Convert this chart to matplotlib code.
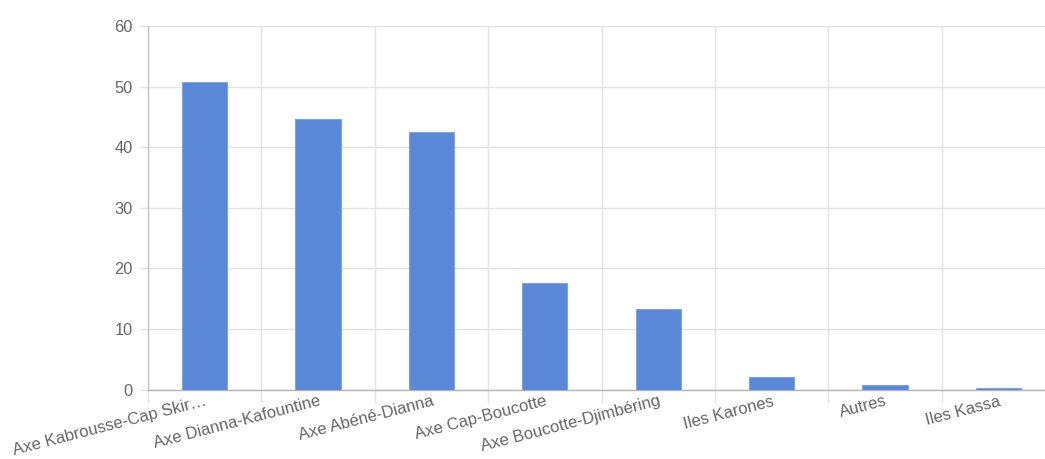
import matplotlib
matplotlib.use("Agg")
import matplotlib.pyplot as plt
import numpy as np

categories = ["Axe Kabrousse-Cap Skir…", "Axe Dianna-Kafountine", "Axe Abéné-Dianna",
              "Axe Cap-Boucotte", "Axe Boucotte-Djimbéring", "Iles Karones", "Autres", "Iles Kassa"]
values = [50.8, 44.6, 42.5, 17.5, 13.3, 2.1, 0.8, 0.2]
y_ticks = [0, 10, 20, 30, 40, 50, 60]

plt.rcParams['font.family'] = ['Liberation Sans', 'DejaVu Sans']

W, H = 1045, 459
fig = plt.figure(figsize=(W / 100, H / 100), dpi=100)
left_px, right_px, top_px, bot_px = 148, 1055, 26, 389.5
ax = fig.add_axes([left_px / W, (H - bot_px) / H, (right_px - left_px) / W, (bot_px - top_px) / H])

x = np.arange(len(categories))
ax.bar(x, values, width=0.4, color='#5b88d6', edgecolor='#7fa3e0', linewidth=0.8, zorder=3)

ax.set_xlim(-0.5, len(categories) - 0.5)
ax.set_ylim(0, 60)
ax.set_yticks(y_ticks)
ax.set_yticklabels([str(t) for t in y_ticks])

grid_c = '#e3e3e3'
ax.set_xticks(x)
ax.set_xticklabels(categories, rotation=14.5, ha='right', rotation_mode='anchor')
ax.set_xticks(np.arange(-0.5, len(categories), 1.0), minor=True)
ax.tick_params(axis='x', which='major', length=0, pad=3, labelsize=12, labelcolor='#666666')
ax.tick_params(axis='x', which='minor', length=9, width=1, color=grid_c)
ax.tick_params(axis='y', length=6, width=1, color=grid_c, pad=5, labelsize=11.8, labelcolor='#666666')

ax.grid(True, which='minor', axis='x', color=grid_c, linewidth=1, zorder=0)
ax.grid(True, which='major', axis='y', color=grid_c, linewidth=1, zorder=0)

for s in ['top', 'right']:
    ax.spines[s].set_visible(False)
ax.spines['left'].set_color('#c4c4c4')
ax.spines['bottom'].set_color('#b5b5b5')
ax.spines['left'].set_linewidth(1)
ax.spines['bottom'].set_linewidth(1)

fig.savefig('out.png', dpi=100)
